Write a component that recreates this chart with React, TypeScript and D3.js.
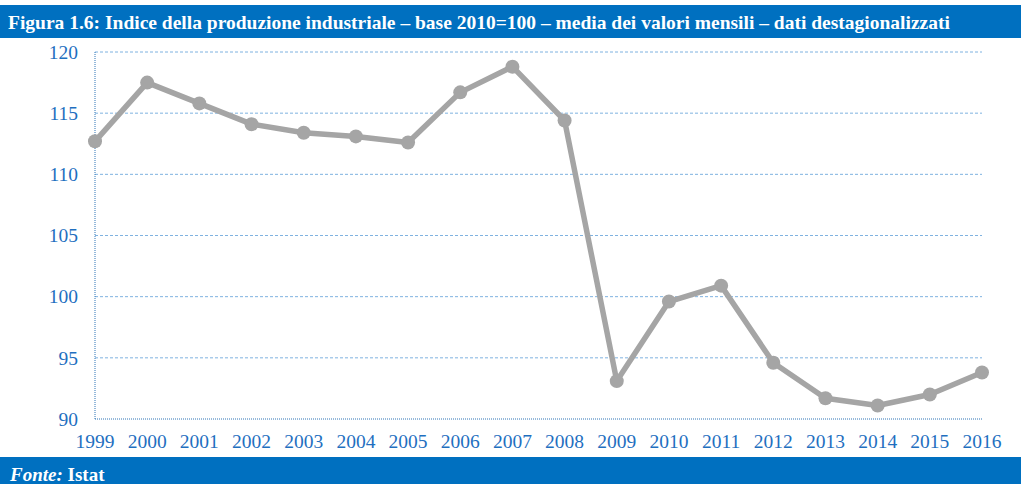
import React from "react";
import * as d3 from "d3";

const years = ["1999","2000","2001","2002","2003","2004","2005","2006","2007","2008","2009","2010","2011","2012","2013","2014","2015","2016"];
const values = [112.7,117.5,115.8,114.1,113.4,113.1,112.6,116.7,118.8,114.4,93.1,99.6,100.9,94.6,91.7,91.1,92.0,93.8];
const yTicks = [90,95,100,105,110,115,120];
const title = "Figura 1.6: Indice della produzione industriale – base 2010=100 – media dei valori mensili – dati destagionalizzati";

const W = 1021, H = 484;
const left = 95, right = 982, top = 52, bottom = 419;
const BLUE = "#0070c0";
const LABEL = "#1f6fbf";
const FONT = "'Liberation Serif', 'Times New Roman', serif";

export default function App() {
  const x = d3.scalePoint<string>().domain(years).range([left, right]);
  const y = d3.scaleLinear().domain([90, 120]).range([bottom, top]);
  const line = d3.line<number>().x((_, i) => x(years[i])!).y(d => y(d));
  return (
    <svg width={W} height={H} style={{ position: "absolute", left: 0, top: 0, background: "#fff" }} fontFamily={FONT}>
      <rect x={0} y={5} width={W} height={33} fill={BLUE} />
      <text x={8} y={29} fill="#fff" fontWeight="bold" fontSize={19.5}>{title}</text>
      {yTicks.filter(t => t !== 90).map(t => (
        <line key={t} x1={left} x2={right} y1={y(t)} y2={y(t)} stroke="#7fb2e0" strokeWidth={1} strokeDasharray="3,2" />
      ))}
      <line x1={left} x2={left} y1={top} y2={bottom} stroke="#2e75b6" strokeWidth={1} strokeDasharray="1,1" />
      <line x1={left} x2={right} y1={bottom} y2={bottom} stroke="#2e75b6" strokeWidth={1} strokeDasharray="1,1" />
      {yTicks.map(t => (
        <text key={t} x={78} y={y(t)} dy="0.35em" textAnchor="end" fill={LABEL} fontSize={19.5}>{t}</text>
      ))}
      {years.map(yr => (
        <text key={yr} x={x(yr)} y={448} textAnchor="middle" fill={LABEL} fontSize={19.5}>{yr}</text>
      ))}
      <path d={line(values)!} fill="none" stroke="#a5a5a5" strokeWidth={5.5} strokeLinejoin="round" />
      {values.map((v, i) => (
        <circle key={i} cx={x(years[i])} cy={y(v)} r={7} fill="#a5a5a5" />
      ))}
      <rect x={0} y={457} width={W} height={27} fill={BLUE} />
      <text x={10} y={481} fill="#fff" fontWeight="bold" fontSize={19}>
        <tspan fontStyle="italic">Fonte:</tspan> Istat
      </text>
    </svg>
  );
}
